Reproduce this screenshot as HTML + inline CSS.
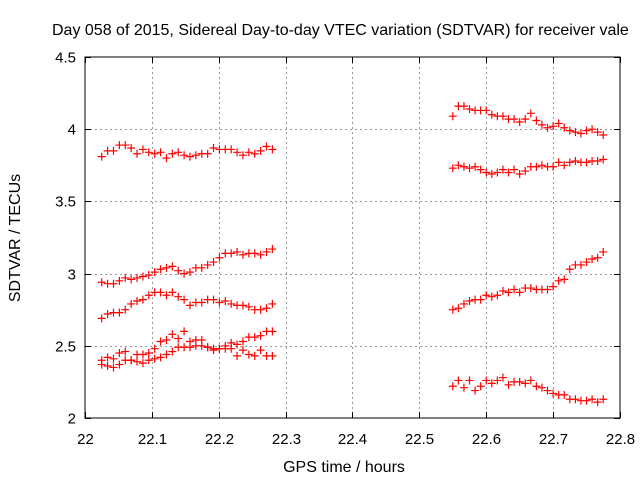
<!DOCTYPE html>
<html><head><meta charset="utf-8"><style>
html,body{margin:0;padding:0;background:#fff;}
svg{display:block;font-family:"Liberation Sans",sans-serif;}
</style></head><body>
<svg id="chart" width="640" height="480">
<text x="52" y="35" font-size="16" fill="#000">Day 058 of 2015, Sidereal Day-to-day VTEC variation (SDTVAR) for receiver vale</text>
<text x="344" y="472" font-size="16" text-anchor="middle">GPS time / hours</text>
<text transform="translate(20,238) rotate(-90)" font-size="16" text-anchor="middle">SDTVAR / TECUs</text>
<g id="grid"></g><g id="ticks"></g><g id="marks"></g>
<rect x="85" y="57" width="535" height="361" fill="none" stroke="#000" stroke-width="1"/>
</svg>
<script>
const xTicks=[22,22.1,22.2,22.3,22.4,22.5,22.6,22.7,22.8];
const xTickLabels=["22","22.1","22.2","22.3","22.4","22.5","22.6","22.7","22.8"];
const yTicks=[2,2.5,3,3.5,4,4.5];
const yTickLabels=["2","2.5","3","3.5","4","4.5"];
const leftStart=22.025, leftStep=0.0088;
const rightStart=22.55, rightStep=0.00833;
const leftS1=[3.81,3.85,3.85,3.89,3.89,3.87,3.83,3.86,3.84,3.83,3.84,3.80,3.83,3.84,3.82,3.81,3.82,3.83,3.83,3.87,3.86,3.86,3.86,3.84,3.82,3.84,3.83,3.85,3.88,3.86];
const leftS2=[2.94,2.93,2.93,2.95,2.97,2.96,2.97,2.98,2.99,3.01,3.03,3.04,3.05,3.02,3.00,3.01,3.04,3.04,3.06,3.08,3.11,3.14,3.14,3.15,3.13,3.14,3.14,3.13,3.15,3.17];
const leftS3=[2.69,2.72,2.73,2.73,2.75,2.79,2.81,2.82,2.85,2.87,2.87,2.85,2.87,2.84,2.82,2.78,2.80,2.80,2.82,2.82,2.80,2.81,2.79,2.78,2.78,2.77,2.75,2.75,2.76,2.79];
const leftS4=[2.37,2.36,2.35,2.37,2.40,2.40,2.39,2.38,2.40,2.41,2.42,2.44,2.46,2.49,2.49,2.49,2.50,2.50,2.49,2.48,2.48,2.48,2.48,2.51,2.53,2.56,2.56,2.57,2.60,2.60];
const leftS5=[2.40,2.42,2.41,2.45,2.46,2.40,2.44,2.44,2.45,2.48,2.53,2.54,2.58,2.55,2.60,2.53,2.54,2.54,2.49,2.47,2.48,2.50,2.52,2.43,2.47,2.44,2.43,2.47,2.43,2.43];
const rightS1=[4.09,4.16,4.16,4.14,4.13,4.13,4.13,4.10,4.09,4.09,4.07,4.07,4.05,4.07,4.11,4.06,4.03,4.01,4.02,4.04,4.01,3.99,3.98,3.97,3.99,4.00,3.98,3.96];
const rightS2=[3.73,3.75,3.74,3.73,3.74,3.72,3.70,3.69,3.70,3.72,3.70,3.72,3.69,3.71,3.74,3.74,3.75,3.74,3.74,3.77,3.75,3.77,3.78,3.77,3.77,3.78,3.78,3.79];
const rightS3=[2.75,2.76,2.79,2.81,2.82,2.82,2.85,2.84,2.85,2.88,2.87,2.89,2.87,2.90,2.90,2.89,2.89,2.89,2.91,2.95,2.96,3.03,3.06,3.06,3.08,3.10,3.11,3.15];
const rightS4=[2.22,2.26,2.21,2.26,2.19,2.22,2.26,2.24,2.26,2.28,2.23,2.25,2.25,2.24,2.26,2.22,2.21,2.19,2.17,2.16,2.16,2.13,2.13,2.12,2.12,2.13,2.11,2.13];

const X0=85,X1=620,Y0=418,Y1=57;
const xs=v=>X0+(v-22)/(0.8)*(X1-X0);
const ys=v=>Y0-(v-2)/(2.5)*(Y0-Y1);
const NS="http://www.w3.org/2000/svg";
function mk(tag,attrs,parent){const e=document.createElementNS(NS,tag);for(const k in attrs)e.setAttribute(k,attrs[k]);parent.appendChild(e);return e;}
const grid=document.getElementById('grid'),ticks=document.getElementById('ticks'),marks=document.getElementById('marks');
xTicks.forEach((t,i)=>{
  const x=Math.round(xs(t))+0.5;
  if(i>0&&i<xTicks.length-1){const g=mk('line',{x1:x,x2:x,y1:Y1,y2:Y0,stroke:'#999','stroke-dasharray':'2,3'},grid);
  
  }
  const a=mk('line',{x1:x,x2:x,y1:Y0,y2:Y0-6,stroke:'#000'},ticks);
  
  
  mk('line',{x1:x,x2:x,y1:Y1,y2:Y1+6,stroke:'#000'},ticks);
  const l=mk('text',{x:x,y:Y0+26,'font-size':15,'text-anchor':'middle'},ticks);
  l.textContent=xTickLabels[i];
  
  
});
yTicks.forEach((t,i)=>{
  const y=Math.round(ys(t))+0.5;
  if(i>0&&i<yTicks.length-1){const g=mk('line',{x1:X0,x2:X1,y1:y,y2:y,stroke:'#999','stroke-dasharray':'2,3'},grid);
  
  }
  const a=mk('line',{x1:X0,x2:X0+6,y1:y,y2:y,stroke:'#000'},ticks);
  
  
  mk('line',{x1:X1,x2:X1-6,y1:y,y2:y,stroke:'#000'},ticks);
  const l=mk('text',{x:X0-9,y:y+5,'font-size':15,'text-anchor':'end'},ticks);
  l.textContent=yTickLabels[i];
  
  
});
function plus(x,y){
  const d=`M${x-4},${y}H${x+4}M${x},${y-4}V${y+4}`;
  const p=mk('path',{d:d,stroke:'#f00','stroke-width':1.2,fill:'none'},marks);
  
  
}
[leftS1,leftS2,leftS3,leftS4,leftS5].forEach(s=>s.forEach((v,i)=>plus(xs(leftStart+i*leftStep),ys(v))));
[rightS1,rightS2,rightS3,rightS4].forEach(s=>s.forEach((v,i)=>plus(xs(rightStart+i*rightStep),ys(v))));
</script>
</body></html>
